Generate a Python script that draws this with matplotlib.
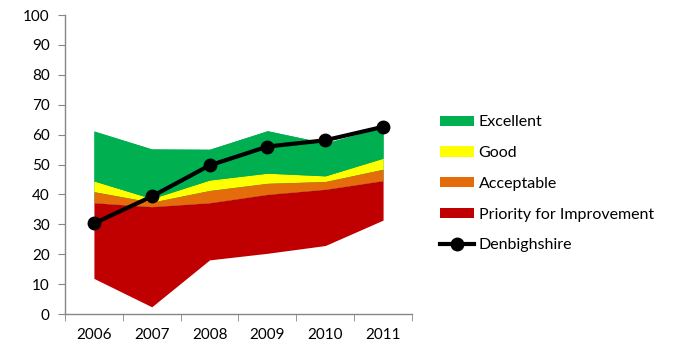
import matplotlib.pyplot as plt
import numpy as np

plt.rcParams['font.family'] = ['Lato', 'DejaVu Sans']

years = ['2006', '2007', '2008', '2009', '2010', '2011']

# band boundaries
band_bottom = [11.9, 2.4, 18.1, 20.3, 22.9, 31.4]
priority_top = [37.2, 35.9, 37.2, 40.0, 41.7, 44.6]
acceptable_top = [40.9, 37.4, 41.3, 43.7, 44.3, 48.4]
good_top = [44.5, 38.6, 44.8, 47.1, 46.2, 52.1]
excellent_top = [61.2, 55.2, 55.1, 61.3, 57.2, 62.4]

denbighshire = [30.3, 39.3, 49.7, 56.0, 58.1, 62.6]

grey = '#868686'

fig = plt.figure(figsize=(6.79, 3.53), dpi=100)
ax = fig.add_axes([65/679, 1 - 314/353, (412 - 65)/679, (314 - 15)/353])

x = np.arange(len(years))
ax.fill_between(x, priority_top, excellent_top, color='#00B050', lw=0, label='Excellent')
ax.fill_between(x, acceptable_top, good_top, color='#FFFF00', lw=0, label='Good')
ax.fill_between(x, priority_top, acceptable_top, color='#E46C0A', lw=0, label='Acceptable')
ax.fill_between(x, band_bottom, priority_top, color='#C00000', lw=0, label='Priority for Improvement')
# redraw green only above yellow so the stack order looks right
ax.fill_between(x, good_top, excellent_top, color='#00B050', lw=0)
ax.plot(x, denbighshire, color='black', lw=3, marker='o', ms=9, label='Denbighshire')

ax.set_xlim(-0.5, len(years) - 0.5)
ax.set_ylim(0, 100)
ax.set_yticks(np.arange(0, 101, 10))
ax.set_xticks(x)
ax.set_xticklabels(years)
ax.set_xticks(np.arange(-0.5, len(years)), minor=True)
ax.tick_params(axis='x', which='major', length=0, pad=10, labelsize=11, colors='black')
ax.tick_params(axis='x', which='minor', length=5, color=grey, direction='out')
ax.tick_params(axis='y', length=5, color=grey, direction='out', pad=6, labelsize=11)

for s in ['top', 'right']:
    ax.spines[s].set_visible(False)
for s in ['left', 'bottom']:
    ax.spines[s].set_color(grey)
    ax.spines[s].set_linewidth(1)

handles, labels = ax.get_legend_handles_labels()
order = ['Excellent', 'Good', 'Acceptable', 'Priority for Improvement', 'Denbighshire']
hmap = dict(zip(labels, handles))
fig.legend([hmap[k] for k in order], order, loc='upper left',
           bbox_to_anchor=(434/679, 1 - 109/353), frameon=False, fontsize=11.5,
           handlelength=2.1, handleheight=0.6, handletextpad=0.3,
           labelspacing=1.05, borderaxespad=0)

fig.savefig('out.png', dpi=100)
